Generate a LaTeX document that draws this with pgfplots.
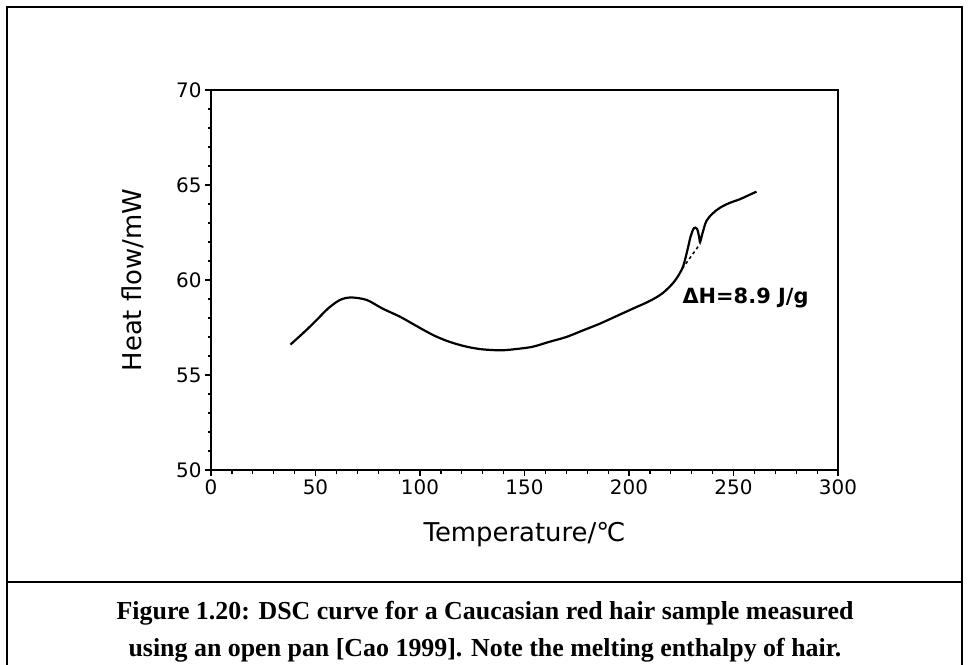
\documentclass[border=0pt]{standalone}
\usepackage{pgfplots}
\pgfplotsset{compat=1.18}
\usepackage{fontspec}
\setmainfont{DejaVu Sans}
\newfontfamily\capfont{Liberation Serif}
\begin{document}
\begin{tikzpicture}[x=1bp,y=1bp]
\useasboundingbox (0,0) rectangle (968,-665);
\draw[line width=2.5bp] (7,-665) -- (7,-7) -- (962,-7) -- (962,-665);
\draw[line width=2.5bp] (7,-582) -- (962,-582);
\begin{axis}[
  at={(211bp,-470bp)}, anchor=south west,
  scale only axis, width=627bp, height=380bp,
  xmin=0, xmax=300, ymin=50, ymax=70,
  xtick={0,50,...,300}, ytick={50,55,...,70},
  minor x tick num=4, minor y tick num=4,
  tick pos=left, tick align=outside,
  major tick length=6bp, minor tick length=3.5bp,
  every tick/.style={black, line width=1.2bp},
  axis line style={line width=1.8bp},
  /pgf/number format/assume math mode=true,
  ticklabel style={font=\fontsize{20}{20}\selectfont},
  xlabel={Temperature/℃},
  ylabel={Heat flow/mW},
  every axis x label/.style={at={(axis description cs:0.5,-0.171)}, anchor=center, font=\fontsize{26}{26}\selectfont},
  every axis y label/.style={at={(axis description cs:-0.124,0.5)}, anchor=center, rotate=90, font=\fontsize{26}{26}\selectfont},
]
\addplot[black, line width=2.2bp, smooth, tension=0.5] coordinates {
(38,56.6) (45,57.3) (50.6,57.9) (56,58.5) (61.7,58.95) (67,59.08) (74.5,58.95)
(82,58.5) (90.4,58.07) (98,57.6) (106.3,57.1) (114,56.75) (122.3,56.49)
(130,56.35) (139,56.3) (147,56.38) (154,56.49) (162,56.75) (170,57.0)
(178,57.35) (186,57.7) (194,58.1) (202,58.5) (210,58.9) (216,59.3)
(221,59.83) (224,60.3) (226,60.75) (228,61.6) (229.5,62.3) (231,62.72)
(232.5,62.7) (233.5,62.3) (234,62.0) (235,62.4) (237,63.1) (240,63.5)
(243.5,63.8) (248,64.05) (253,64.25) (257,64.45) (261,64.65)
};
\addplot[black, line width=1.5bp, dash pattern=on 3bp off 3bp] coordinates {(225.5,60.6) (234,61.9)};
\node[anchor=west, inner sep=0, font=\bfseries\fontsize{21}{21}\selectfont] at (axis cs:225.5,59.05) {ΔH=8.9 J/g};
\end{axis}
\node[font=\capfont\bfseries\fontsize{26}{26}\selectfont] at (485,-613) {Figure 1.20: DSC curve for a Caucasian red hair sample measured};
\node[font=\capfont\bfseries\fontsize{26}{26}\selectfont] at (485,-650) {using an open pan [Cao 1999]. Note the melting enthalpy of hair.};
\end{tikzpicture}
\end{document}
